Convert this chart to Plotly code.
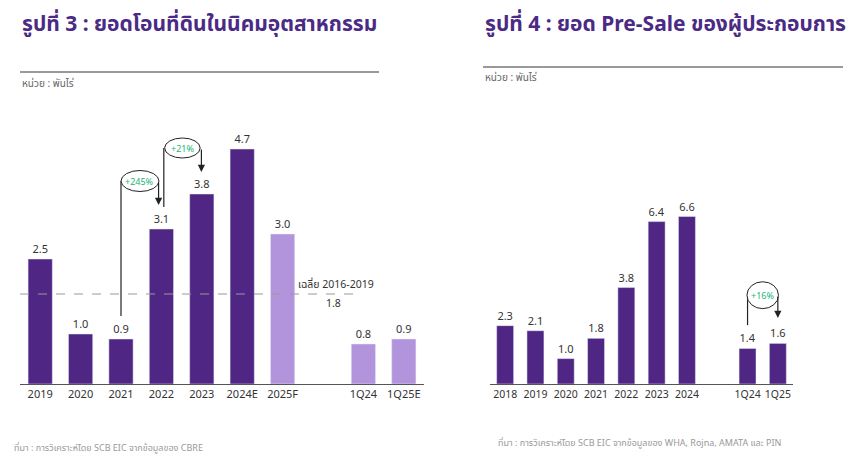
import plotly.graph_objects as go

# data
land_cats = ["2019", "2020", "2021", "2022", "2023", "2024E", "2025F", " ", "1Q24", "1Q25E"]
land_vals = [2.5, 1.0, 0.9, 3.1, 3.8, 4.7, 3.0, None, 0.8, 0.9]
land_avg = 1.8

presale_cats = ["2018", "2019", "2020", "2021", "2022", "2023", "2024", " ", "1Q24", "1Q25"]
presale_vals = [2.3, 2.1, 1.0, 1.8, 3.8, 6.4, 6.6, None, 1.4, 1.6]

DARK = "#4F2683"
LIGHT = "#B294DC"
land_colors = [DARK] * 6 + [LIGHT] * 4
presale_colors = [DARK] * 10

FONT = "Noto Sans, Noto Sans Thai, Lato, sans-serif"
TITLE_C = "#4B2A86"
GREEN = "#22B573"

W, H = 860, 466
OFF = 8  # page body margin


def px(x):
    return (x - OFF) / W


def py(y):
    return 1 - (y - OFF) / H


fig = go.Figure()

fig.add_trace(go.Bar(x=land_cats, y=land_vals, marker_color=land_colors, width=0.6,
                     text=[f"{v:.1f}" if v is not None else "" for v in land_vals],
                     textposition="outside", cliponaxis=False,
                     textfont=dict(size=11, color="#333333"),
                     xaxis="x", yaxis="y", hoverinfo="x+y"))
fig.add_trace(go.Bar(x=presale_cats, y=presale_vals, marker_color=presale_colors, width=0.56,
                     text=[f"{v:.1f}" if v is not None else "" for v in presale_vals],
                     textposition="outside", cliponaxis=False,
                     textfont=dict(size=11, color="#333333"),
                     xaxis="x2", yaxis="y2", hoverinfo="x+y"))

axis_common = dict(showgrid=False, zeroline=False, ticks="", showline=True,
                   linecolor="#555555", linewidth=1)

fig.update_layout(
    width=W, height=H,
    margin=dict(l=0, r=0, t=0, b=0),
    paper_bgcolor="white", plot_bgcolor="white",
    showlegend=False,
    font=dict(family=FONT),
    xaxis=dict(domain=[px(20), px(424)], type="category", anchor="y",
               tickfont=dict(size=11, color="#333333", family=FONT), **axis_common),
    yaxis=dict(domain=[py(384), py(134)], range=[0, 5.0], visible=False, anchor="x"),
    xaxis2=dict(domain=[px(490), px(793)], type="category", anchor="y2",
                tickfont=dict(size=10.5, color="#333333", family=FONT), **axis_common),
    yaxis2=dict(domain=[py(384), py(181)], range=[0, 8.0], visible=False, anchor="x2"),
)

shapes = []
annots = []

# titles, rules, units, sources
for x0, x1, ytitle, yline, yunit, title, src, xsrc, ysrc in [
    (20, 379, 23, 72, 83, "รูปที่ 3 : ยอดโอนที่ดินในนิคมอุตสาหกรรม",
     "ที่มา : การวิเคราะห์โดย SCB EIC จากข้อมูลของ CBRE", 12, 447),
    (483, 843, 23, 67, 77, "รูปที่ 4 : ยอด Pre-Sale ของผู้ประกอบการ",
     "ที่มา : การวิเคราะห์โดย SCB EIC จากข้อมูลของ WHA, Rojna, AMATA และ PIN", 496, 442),
]:
    annots.append(dict(xref="paper", yref="paper", x=px(x0), y=py(ytitle),
                       xanchor="left", yanchor="middle", showarrow=False, text=f"<b>{title}</b>",
                       font=dict(size=21, color=TITLE_C, family=FONT)))
    shapes.append(dict(type="line", xref="paper", yref="paper", x0=px(x0), x1=px(x1),
                       y0=py(yline), y1=py(yline),
                       line=dict(color="#777777", width=1.5)))
    annots.append(dict(xref="paper", yref="paper", x=px(x0), y=py(yunit),
                       xanchor="left", yanchor="middle", showarrow=False, text="หน่วย : พันไร่",
                       font=dict(size=10, color="#666666", family=FONT)))
    annots.append(dict(xref="paper", yref="paper", x=px(xsrc),
                       y=py(ysrc), xanchor="left", yanchor="middle", showarrow=False,
                       text=src, font=dict(size=9, color="#999999", family=FONT)))

# average line
shapes.append(dict(type="line", xref="x domain", yref="y", x0=0, x1=0.84, y0=land_avg, y1=land_avg,
                   line=dict(color="#999999", width=1, dash="dash")))
annots.append(dict(xref="x", yref="y", x=6.32, y=land_avg + 0.2, xanchor="left", yanchor="middle",
                   showarrow=False, text="เฉลี่ย 2016-2019",
                   font=dict(size=10.5, color="#333333", family=FONT)))
annots.append(dict(xref="x", yref="y", x=7.27, y=land_avg - 0.18, xanchor="center", yanchor="middle",
                   showarrow=False, text=f"{land_avg:.1f}",
                   font=dict(size=10.5, color="#333333", family=FONT)))


def growth(xr, yr, x_from, y_from, cx, cy, rx, ry, x_to, y_to, label):
    # vertical line from base bar up to the bubble
    shapes.append(dict(type="line", xref=xr, yref=yr, x0=x_from, x1=x_from, y0=y_from, y1=cy,
                       line=dict(color="#222222", width=1.2)))
    shapes.append(dict(type="circle", xref=xr, yref=yr, x0=cx - rx, x1=cx + rx, y0=cy - ry, y1=cy + ry,
                       fillcolor="white", line=dict(color="#222222", width=1)))
    annots.append(dict(xref=xr, yref=yr, x=cx, y=cy, showarrow=False, text=label,
                       font=dict(size=9, color=GREEN, family=FONT)))
    annots.append(dict(xref=xr, yref=yr, x=x_to, y=y_to, axref=xr, ayref=yr, ax=x_to, ay=cy,
                       showarrow=True, arrowhead=2, arrowsize=1.2, arrowwidth=1.2,
                       arrowcolor="#222222", text="", standoff=0))


growth("x", "y", 2.0, 1.36, 2.47, 4.06, 0.47, 0.21, 2.93, 3.58, "+245%")
growth("x", "y", 3.06, 3.54, 3.52, 4.72, 0.44, 0.2, 3.99, 4.24, "+21%")
growth("x2", "y2", 8.0, 2.32, 8.5, 3.5, 0.52, 0.53, 9.0, 2.6, "+16%")

fig.update_layout(shapes=shapes, annotations=annots)

fig.write_html("out.html")
